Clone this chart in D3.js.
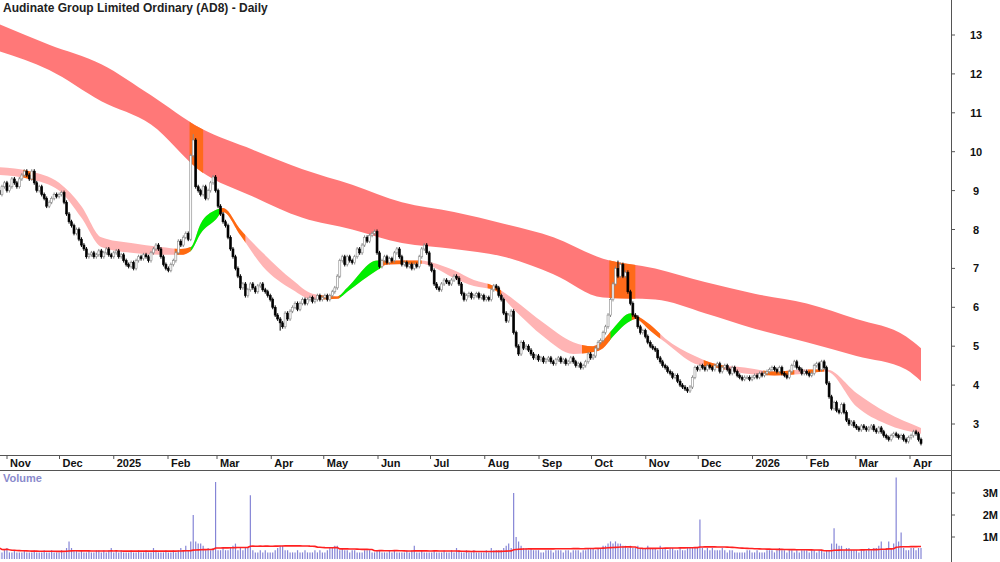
<!DOCTYPE html>
<html><head><meta charset="utf-8">
<script src="https://cdn.jsdelivr.net/npm/d3@7/dist/d3.min.js"></script>
<style>body{margin:0;background:#fff}svg{display:block;font-family:"Liberation Sans",Arial,sans-serif}</style>
</head><body><svg id="c" width="1000" height="562"></svg>
<script>
const title = "Audinate Group Limited Ordinary (AD8) - Daily";
const axisStart = "2024-11-01", axisEnd = "2026-04-01";
const monthTicks = ["2024-11-01","2024-12-01","2025-01-01","2025-02-01","2025-03-01","2025-04-01","2025-05-01","2025-06-01","2025-07-01","2025-08-01","2025-09-01","2025-10-01","2025-11-01","2025-12-01","2026-01-01","2026-02-01","2026-03-01","2026-04-01"];
const closes = [
9.0,8.9,9.1,9.2,9.0,9.1,9.3,9.2,9.1,9.3,
9.4,9.5,9.4,9.3,9.5,
9.2,9.0,9.1,8.9,8.8,
8.6,8.7,8.8,8.9,8.85,8.9,
8.95,8.7,8.4,
8.2,8.1,7.9,8.0,7.75,
7.6,7.5,7.3,7.35,
7.4,7.3,7.35,7.45,7.3,7.4,7.5,7.35,7.3,7.4,7.45,7.3,7.35,
7.2,7.1,7.05,7.15,7.0,
7.2,7.3,7.25,7.35,7.3,7.2,
7.4,7.5,7.6,7.5,
7.3,7.1,7.0,6.95,7.1,7.2,
7.4,7.7,7.6,7.8,7.9,
7.75,
9.9,10.3,9.1,
9.0,8.9,9.1,8.8,9.0,
9.2,9.35,
9.0,8.6,
8.4,8.2,8.1,
7.8,7.5,7.3,
7.0,6.8,6.5,6.6,
6.3,6.45,6.6,6.5,
6.4,6.55,6.6,6.45,6.4,
6.3,6.2,
6.0,5.8,5.7,5.6,
5.5,5.85,5.7,5.9,
6.0,6.1,5.95,6.1,
6.2,6.1,6.2,6.25,6.15,6.2,
6.3,6.2,6.25,6.3,6.2,6.3,
6.4,6.5,
6.8,7.2,7.3,7.1,
7.3,7.2,7.15,7.3,
7.5,7.4,7.6,7.8,
7.7,7.85,7.9,7.95,
7.4,7.05,
7.2,7.3,7.15,7.25,7.2,
7.4,7.5,7.3,
7.1,7.15,7.05,7.1,7.0,7.1,7.05,
7.3,7.5,7.6,
7.4,7.1,
6.95,6.6,6.5,
6.45,6.6,6.7,6.65,6.6,
6.7,6.8,
6.75,6.6,6.35,
6.2,6.3,6.35,6.25,6.3,6.35,6.25,6.3,
6.2,6.25,6.2,
6.45,6.55,6.5,
6.3,
6.2,5.85,
5.65,5.8,5.9,
5.35,5.0,4.8,
5.1,4.95,5.0,4.9,
4.8,4.7,4.75,4.65,4.7,4.6,4.65,4.7,4.6,4.55,4.65,4.7,4.6,4.65,4.55,4.6,4.7,4.6,
4.5,4.55,4.45,4.5,4.6,
4.8,4.7,4.75,
4.95,5.1,5.15,
5.35,5.5,
5.8,6.2,
6.6,7.0,6.8,
7.1,6.8,6.9,
6.4,6.1,
5.8,5.75,
5.5,5.35,5.4,5.25,
5.1,5.0,4.95,4.9,
4.7,4.6,4.5,4.45,
4.35,4.3,4.2,4.25,
4.1,4.0,3.95,3.9,3.85,3.95,
4.2,4.45,
4.4,4.5,4.45,4.4,4.5,4.45,
4.4,4.5,4.55,4.35,4.45,4.5,4.4,4.3,4.45,4.35,
4.25,4.2,4.15,4.2,
4.2,4.15,4.2,4.25,4.2,4.3,4.25,4.3,
4.35,4.4,4.45,4.4,4.35,4.45,
4.3,4.25,4.2,4.35,
4.5,4.6,4.45,4.4,
4.3,4.35,4.3,4.25,4.3,
4.5,4.55,4.4,4.6,
4.45,4.05,3.7,
3.4,3.55,3.35,3.3,
3.5,3.3,3.1,3.0,
3.05,2.95,2.9,2.85,2.95,2.9,2.85,2.9,2.95,
2.85,2.8,2.9,2.8,
2.7,2.65,2.6,2.7,
2.75,2.7,2.65,2.7,
2.6,2.55,2.65,2.7,
2.8,2.75,2.6,2.5];
const firstOpen = 8.9;
const spikeHigh = {79: 10.45, 114: 5.4, 250: 7.2};
// volume in units of 0.1M
const vol10 = [
6,4,3,4,5,3,3,4,3,3, 3,4,3,3,3,4,3,3,3,4, 3,3,4,3,3,3,4,3,5,8, 5,4,4,3,4,3,3,4,3,3,
4,4,3,4,3,4,5,3,4,3, 4,3,3,3,4,3,3,4,3,3, 4,3,3,5,4,3,3,3,4,3, 3,4,3,4,5,4,6,4,8,20,
8,7,7,6,4,5,4,5,35,4, 4,5,4,4,5,6,7,4,5,4, 5,5,29,4,3,3,4,3,4,3, 3,3,4,5,6,6,4,4,3,3,
3,4,3,3,4,3,3,3,4,3, 4,3,3,4,5,5,6,6,4,5, 4,4,3,4,4,3,3,3,4,4, 4,3,3,4,4,3,3,3,4,3,
4,3,3,3,3,4,3,4,6,3, 3,4,3,3,3,3,4,3,3,3, 4,3,3,4,3,5,4,3,3,4, 3,3,4,3,3,3,3,4,3,5,
4,4,4,4,5,6,7,5,30,10, 8,6,5,5,4,5,4,4,4,3, 3,4,4,4,3,4,4,4,3,4, 4,3,4,4,4,3,4,4,5,5,
5,4,5,5,6,6,7,8,7,8, 7,7,6,6,5,6,5,5,6,5, 5,5,6,5,5,5,4,6,5,5, 4,5,5,4,4,5,4,4,5,5,
5,5,5,18,5,4,5,4,5,4, 4,4,5,4,3,4,4,3,3,3, 3,3,4,4,3,3,4,3,3,3, 4,4,4,3,4,5,4,4,3,4,
4,3,4,3,4,4,4,3,4,4, 3,4,4,3,4,4,7,14,7,6, 6,4,5,5,4,4,4,3,4,4, 4,5,4,5,5,6,8,4,5,8,
5,7,37,8,12,5,4,4,5,5, 4,5,5];
const longBar   = [0,21,42,62,82,103,123,143,163,184,204,224,244,265,285,305,326,346,366,372];
const longUpper = [13.3,12.75,12.25,11.45,10.6,10.05,9.55,9.15,8.7,8.45,8.15,7.8,7.25,7.0,6.65,6.35,6.1,5.7,5.25,4.95];
const longLower = [12.6,12.1,11.3,10.7,9.5,8.85,8.3,8.0,7.65,7.5,7.3,6.85,6.25,6.2,5.85,5.45,5.1,4.75,4.4,4.1];
const longOrange = [[78,83],[247,257]];
const shortBar   = [1,13,25,34,42,54,66,74,78,82,88,91,98,107,119,127,137,141,153,157,171,175,184,192,200,208,220,232,240,244,248,255,257,263,269,281,289,301,313,326,334,346,358,372];
const shortUpper = [9.6,9.5,9.2,8.6,7.8,7.65,7.55,7.5,7.55,8.15,8.5,8.55,8.0,7.4,6.7,6.35,6.28,6.5,7.2,7.2,7.2,7.15,6.95,6.7,6.55,6.2,5.6,5.1,5.0,5.15,5.45,5.85,5.8,5.55,5.2,4.75,4.55,4.45,4.35,4.4,4.4,3.8,3.3,2.9];
const shortLower = [9.4,9.3,9.0,8.3,7.55,7.4,7.35,7.35,7.45,7.9,8.25,8.45,7.85,7.05,6.45,6.2,6.22,6.4,6.95,7.1,7.12,7.05,6.75,6.55,6.45,5.95,5.25,4.8,4.85,4.95,5.25,5.65,5.7,5.4,5.1,4.55,4.45,4.3,4.25,4.3,4.35,3.45,3.0,2.75];
const shortGreen  = [[78,90],[138,155],[247,256]];
const shortOrange = [[11,15],[72,78],[90,100],[130,138],[155,171],[198,203],[236,247],[256,267],[285,293],[309,321],[327,333]];
const priceTicks = [3,4,5,6,7,8,9,10,11,12,13];
const volTicks = [1,2,3];

const svg = d3.select("#c");
const N = closes.length;
const data = closes.map((c, i) => {
  const o = i === 0 ? firstOpen : closes[i-1];
  const sh = spikeHigh[i];
  return {i, o, c,
    h: sh !== undefined && sh > Math.max(o,c) ? sh : Math.max(o, c) + 0.05,
    l: sh !== undefined && sh < Math.min(o,c) ? sh : Math.min(o, c) - 0.05,
    v: vol10[i] / 10};
});
const x = d3.scaleLinear().domain([0, N - 1]).range([-3, 921]);
const xt = d3.scaleTime().domain([new Date(axisStart + "T00:00:00"), new Date(axisEnd + "T00:00:00")]).range([7, 910]);
const y = d3.scaleLinear().domain([3, 13]).range([424, 35]);
const yv = d3.scaleLinear().domain([0, 3]).range([559, 493]);
const plotR = 951;

const defs = svg.append("defs");
defs.append("clipPath").attr("id","pc").append("rect").attr("x",0).attr("y",0).attr("width",plotR).attr("height",455);
function clipRanges(id, ranges) {
  const cp = defs.append("clipPath").attr("id", id);
  ranges.forEach(r => cp.append("rect").attr("x", x(r[0]) - 1.2).attr("width", x(r[1]) - x(r[0]) + 1.2).attr("y", 0).attr("height", 455));
}
clipRanges("lo", longOrange); clipRanges("sg", shortGreen); clipRanges("so", shortOrange);
const g = svg.append("g").attr("clip-path","url(#pc)");

function band(bars, up, lo) {
  return d3.area().curve(d3.curveMonotoneX).x(b => x(b)).y0((b, k) => y(lo[k])).y1((b, k) => y(up[k]))(bars);
}
const longPath = band(longBar, longUpper, longLower);
const shortPath = band(shortBar, shortUpper, shortLower);
g.append("path").attr("d", longPath).attr("fill", "#ff7878");
g.append("g").attr("clip-path","url(#lo)").append("path").attr("d", longPath).attr("fill", "#ff6a1a");
g.append("path").attr("d", shortPath).attr("fill", "#ffb4b4");
g.append("g").attr("clip-path","url(#sg)").append("path").attr("d", shortPath).attr("fill", "#00ee00");
g.append("g").attr("clip-path","url(#so)").append("path").attr("d", shortPath).attr("fill", "#ff6a10");

const cg = g.append("g");
cg.selectAll("line").data(data).join("line")
  .attr("x1", d => x(d.i)).attr("x2", d => x(d.i)).attr("y1", d => y(d.h)).attr("y2", d => y(d.l))
  .attr("stroke", d => d.c >= d.o ? "#888" : "#000").attr("stroke-width", 1);
cg.selectAll("rect").data(data).join("rect")
  .attr("x", d => x(d.i) - 1).attr("width", 2)
  .attr("y", d => y(Math.max(d.o, d.c))).attr("height", d => Math.max(1, Math.abs(y(d.o) - y(d.c))))
  .attr("fill", d => d.c >= d.o ? "#fff" : "#000").attr("stroke", d => d.c >= d.o ? "#888" : "#000").attr("stroke-width", 0.6);

svg.append("g").selectAll("line").data(data).join("line")
  .attr("x1", d => x(d.i)).attr("x2", d => x(d.i)).attr("y1", yv(0)).attr("y2", d => yv(d.v))
  .attr("stroke", "#8585d6").attr("stroke-width", 1.2);
const ma = data.map((d, i) => { const s = data.slice(Math.max(0, i - 49), i + 1); return {i, m: d3.mean(s, e => e.v)}; });
svg.append("path").datum(ma).attr("fill","none").attr("stroke","#ff2020").attr("stroke-width",1.6)
  .attr("d", d3.line().x(d => x(d.i)).y(d => yv(d.m)));

svg.append("line").attr("x1",0).attr("x2",plotR).attr("y1",455.5).attr("y2",455.5).attr("stroke","#555");
svg.append("line").attr("x1",0).attr("x2",1000).attr("y1",470.5).attr("y2",470.5).attr("stroke","#555");
svg.append("line").attr("x1",plotR+0.5).attr("x2",plotR+0.5).attr("y1",0).attr("y2",562).attr("stroke","#555");

const mg = svg.append("g");
monthTicks.forEach(s => {
  const dt = new Date(s + "T00:00:00"), px = xt(dt);
  mg.append("line").attr("x1", px).attr("x2", px).attr("y1", 455).attr("y2", 459).attr("stroke", "#555");
  mg.append("text").attr("x", px + 3).attr("y", 467).attr("font-size", 11).attr("font-weight", "bold").attr("fill", "#111")
    .text(dt.getMonth() === 0 ? d3.timeFormat("%Y")(dt) : d3.timeFormat("%b")(dt));
});

priceTicks.forEach(p => {
  svg.append("line").attr("x1", plotR).attr("x2", plotR + 4).attr("y1", y(p)).attr("y2", y(p)).attr("stroke", "#555");
  svg.append("text").attr("x", 976).attr("y", y(p) + 4).attr("text-anchor", "middle").attr("font-size", 11).attr("font-weight", "bold").attr("fill","#111").text(p);
});
volTicks.forEach(v => {
  svg.append("line").attr("x1", plotR).attr("x2", plotR + 4).attr("y1", yv(v)).attr("y2", yv(v)).attr("stroke", "#555");
  svg.append("text").attr("x", 998).attr("y", yv(v) + 4).attr("text-anchor", "end").attr("font-size", 11).attr("font-weight", "bold").attr("fill","#111").text(v + "M");
});

svg.append("text").attr("x", 3).attr("y", 12).attr("font-size", 12).attr("font-weight","bold").attr("fill","#222").text(title);
svg.append("text").attr("x", 3).attr("y", 482).attr("font-size", 11).attr("font-weight","bold").attr("fill","#8a8acc").text("Volume");
</script></body></html>
